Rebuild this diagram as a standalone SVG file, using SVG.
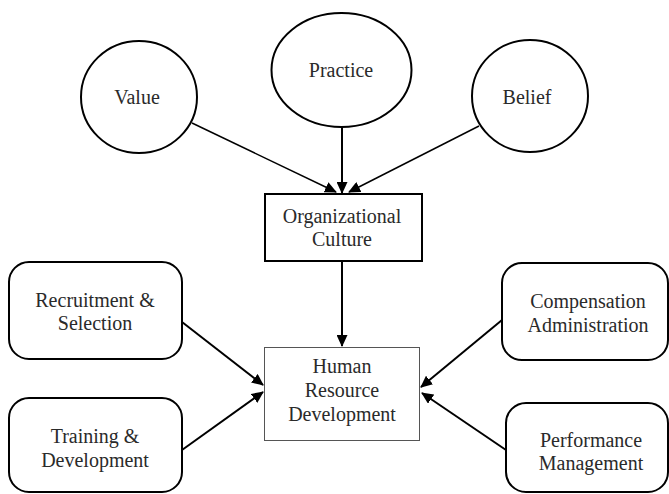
<svg xmlns="http://www.w3.org/2000/svg" width="669" height="494" viewBox="0 0 669 494">
<style>
.s{fill:#fff;stroke:#000;stroke-width:2}
.t{fill:#fff;stroke:#555;stroke-width:1}
.c{stroke:#000;stroke-width:2;fill:none}
.d{stroke:#000;stroke-width:1.5;fill:none}
.lbl{font-family:"Liberation Serif","DejaVu Serif",serif;font-size:20px;fill:#2a2a2a;text-anchor:middle}
</style>
<defs>
<marker id="ah" markerWidth="12" markerHeight="11" refX="11" refY="5.5" orient="auto" markerUnits="userSpaceOnUse">
<path d="M0,0 L12,5.5 L0,11 z" fill="#000"/>
</marker>
</defs>
<rect width="669" height="494" fill="#fff"/>
<g id="connectors">
<line class="c" x1="342" y1="127" x2="342" y2="193" marker-end="url(#ah)"/>
<line class="d" x1="192" y1="123" x2="336" y2="192" marker-end="url(#ah)"/>
<line class="d" x1="479" y1="126" x2="349" y2="192" marker-end="url(#ah)"/>
<line class="c" x1="342" y1="262" x2="342" y2="346" marker-end="url(#ah)"/>
<line class="c" x1="182" y1="322" x2="263" y2="385" marker-end="url(#ah)"/>
<line class="c" x1="182" y1="450" x2="263" y2="392" marker-end="url(#ah)"/>
<line class="c" x1="502" y1="320" x2="421" y2="387" marker-end="url(#ah)"/>
<line class="c" x1="506" y1="450" x2="422" y2="393" marker-end="url(#ah)"/>
</g>
<g id="value"><ellipse class="s" cx="139" cy="97" rx="58" ry="56"/><text class="lbl" x="137" y="104">Value</text></g>
<g id="practice"><ellipse class="s" cx="341.5" cy="70" rx="70" ry="57"/><text class="lbl" x="341" y="77">Practice</text></g>
<g id="belief"><ellipse class="s" cx="530" cy="96" rx="58" ry="56"/><text class="lbl" x="527" y="104">Belief</text></g>
<g id="org"><rect class="s" x="265" y="194" width="157" height="67"/><text class="lbl" x="342" y="223">Organizational</text><text class="lbl" x="342" y="246">Culture</text></g>
<g id="hrd"><rect class="t" x="264.5" y="347.5" width="155" height="93"/><text class="lbl" x="342" y="373">Human</text><text class="lbl" x="342" y="397">Resource</text><text class="lbl" x="342" y="421">Development</text></g>
<g id="recruit"><rect class="s" x="9" y="262" width="173" height="97" rx="20"/><text class="lbl" x="95" y="307">Recruitment &amp;</text><text class="lbl" x="95" y="330">Selection</text></g>
<g id="training"><rect class="s" x="9" y="398" width="173" height="94" rx="20"/><text class="lbl" x="95" y="443">Training &amp;</text><text class="lbl" x="95" y="467">Development</text></g>
<g id="comp"><rect class="s" x="502" y="263" width="166" height="97" rx="20"/><text class="lbl" x="588" y="308">Compensation</text><text class="lbl" x="588" y="332">Administration</text></g>
<g id="perf"><rect class="s" x="506" y="403" width="162" height="89" rx="20"/><text class="lbl" x="591" y="447">Performance</text><text class="lbl" x="591" y="470">Management</text></g>
</svg>
